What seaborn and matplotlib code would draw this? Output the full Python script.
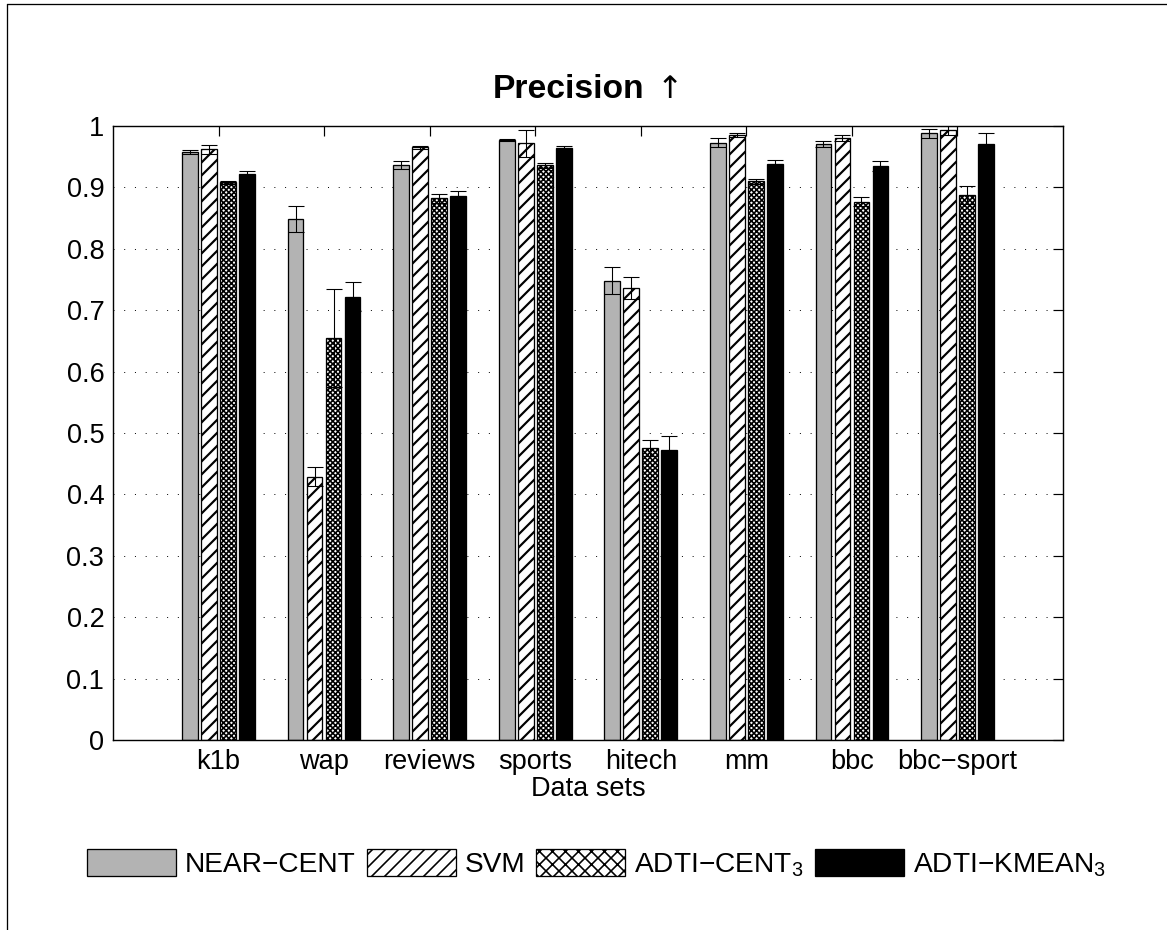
import matplotlib
matplotlib.use("Agg")
import numpy as np
import pandas as pd
import matplotlib.pyplot as plt
from matplotlib.patches import Patch
from matplotlib.lines import Line2D
from matplotlib.ticker import FuncFormatter
import seaborn as sns

# ---- data -------------------------------------------------------------
datasets = ["k1b", "wap", "reviews", "sports", "hitech", "mm", "bbc", "bbc\u2212sport"]
methods = ["NEAR-CENT", "SVM", "ADTI-CENT3", "ADTI-KMEAN3"]
legend_labels = ["NEAR\u2212CENT", "SVM", "ADTI\u2212CENT$_3$", "ADTI\u2212KMEAN$_3$"]

near_cent = [0.958, 0.849, 0.937, 0.977, 0.748, 0.973, 0.971, 0.988]
near_cent_err = [0.003, 0.021, 0.0065, 0.002, 0.022, 0.0075, 0.005, 0.007]

svm = [0.962, 0.429, 0.965, 0.972, 0.736, 0.985, 0.980, 0.993]
svm_err = [0.007, 0.015, 0.002, 0.022, 0.018, 0.003, 0.005, 0.007]

adti_cent = [0.908, 0.655, 0.882, 0.936, 0.476, 0.910, 0.877, 0.888]
adti_cent_err = [0.002, 0.080, 0.0076, 0.004, 0.013, 0.004, 0.007, 0.015]

adti_kmean = [0.922, 0.722, 0.886, 0.964, 0.473, 0.9375, 0.935, 0.971]
adti_kmean_err = [0.004, 0.024, 0.0076, 0.004, 0.022, 0.0075, 0.008, 0.018]

values = [near_cent, svm, adti_cent, adti_kmean]
errors = [near_cent_err, svm_err, adti_cent_err, adti_kmean_err]

df = pd.DataFrame({
    "dataset": np.tile(datasets, len(methods)),
    "method": np.repeat(methods, len(datasets)),
    "precision": np.concatenate(values),
})

# ---- style ------------------------------------------------------------
sns.set_style("white")
plt.rcParams["font.family"] = ["Liberation Sans", "DejaVu Sans"]
plt.rcParams["mathtext.fontset"] = "custom"
plt.rcParams["mathtext.rm"] = "Liberation Sans"
plt.rcParams["mathtext.it"] = "Liberation Sans:italic"
plt.rcParams["mathtext.bf"] = "Liberation Sans:bold"
plt.rcParams["hatch.linewidth"] = 1.5
plt.rcParams["hatch.color"] = "black"
for key in ("text.color", "axes.labelcolor", "xtick.color", "ytick.color",
            "axes.edgecolor"):
    plt.rcParams[key] = "black"

FS = 25
DPI = 78
fig = plt.figure(figsize=(1167 / DPI, 930 / DPI), dpi=DPI)
ax = fig.add_axes([113 / 1167, 1 - 740 / 930, 950 / 1167, 614 / 930])

fills = {"NEAR-CENT": "#b3b3b3", "SVM": "white",
         "ADTI-CENT3": "white", "ADTI-KMEAN3": "black"}
bar_hatches = [None, "//", "xxxxx", None]
legend_hatches = [None, "//", "xx", None]
hatch_widths = [None, 2.0, 1.5, None]


def style_hatch(patch, hatch, hw):
    if hatch:
        patch.set_hatch(hatch)
        if hasattr(patch, "set_hatch_linewidth"):
            patch.set_hatch_linewidth(hw)


sns.barplot(data=df, x="dataset", y="precision", hue="method",
            hue_order=methods, order=datasets, palette=fills,
            width=0.72, gap=0.18, errorbar=None, legend=False,
            edgecolor="black", linewidth=1.2, saturation=1, ax=ax)

for cont, hatch, hw, vals, errs in zip(ax.containers, bar_hatches,
                                       hatch_widths, values, errors):
    for bar, v, e in zip(cont, vals, errs):
        style_hatch(bar, hatch, hw)
        bar.set_zorder(2)
        xc = bar.get_x() + bar.get_width() / 2
        ax.errorbar(xc, v, yerr=e, fmt="none", ecolor="black",
                    elinewidth=1.0, capsize=7.5, capthick=1.0, zorder=3)

# ---- axes -------------------------------------------------------------
ax.set_xlim(-1, len(datasets))
ax.set_ylim(0, 1)
ax.set_yticks(np.arange(0, 1.001, 0.1))
ax.yaxis.set_major_formatter(FuncFormatter(lambda v, _: f"{v:g}"))
ax.yaxis.grid(True, linestyle=(0, (1, 10)), color="black", linewidth=0.9)
ax.set_axisbelow(True)
for s in ax.spines.values():
    s.set_linewidth(1.3)
    s.set_color("black")
    s.set_visible(True)
ax.tick_params(direction="in", length=9, width=1.1, top=True, right=True,
               labelsize=FS, colors="black", pad=8)

ax.set_xlabel("Data sets", fontsize=FS, labelpad=1)
ax.set_ylabel("")

# title: bold word followed by a thin arrow
title_y = 1 - 98 / 930
t_word = fig.text(0, title_y, "Precision", fontsize=31, fontweight="bold",
                  ha="left", va="baseline")
t_arrow = fig.text(0, title_y, "\u2191", fontsize=29, family="DejaVu Sans",
                   ha="left", va="baseline")
fig.canvas.draw()
r = fig.canvas.get_renderer()
w_word = t_word.get_window_extent(r).width
w_arrow = t_arrow.get_window_extent(r).width
gap = 12
total = w_word + gap + w_arrow
ax_bb = ax.get_window_extent(r)
x0 = (ax_bb.x0 + ax_bb.x1) / 2 - total / 2
W = fig.bbox.width
t_word.set_x(x0 / W)
t_arrow.set_x((x0 + w_word + gap) / W)

# ---- legend -----------------------------------------------------------
handles = []
for m, h, hw in zip(methods, legend_hatches, hatch_widths):
    p = Patch(facecolor=fills[m], edgecolor="black", linewidth=1.2)
    style_hatch(p, h, hw)
    handles.append(p)
fig.legend(handles, legend_labels, loc="center", ncol=4,
           bbox_to_anchor=(0.511, 1 - 864 / 930), frameon=False,
           fontsize=26, handlelength=3.15, handleheight=1.06,
           handletextpad=0.32, columnspacing=0.4)

# ---- figure frame -----------------------------------------------------
fy = 1 - 4 / 930
fx = 7 / 1167
fig.add_artist(Line2D([fx, 1], [fy, fy], transform=fig.transFigure,
                      color="black", linewidth=1.2))
fig.add_artist(Line2D([fx, fx], [0, fy], transform=fig.transFigure,
                      color="black", linewidth=1.2))

fig.savefig("out.png", dpi=DPI, facecolor="white")
